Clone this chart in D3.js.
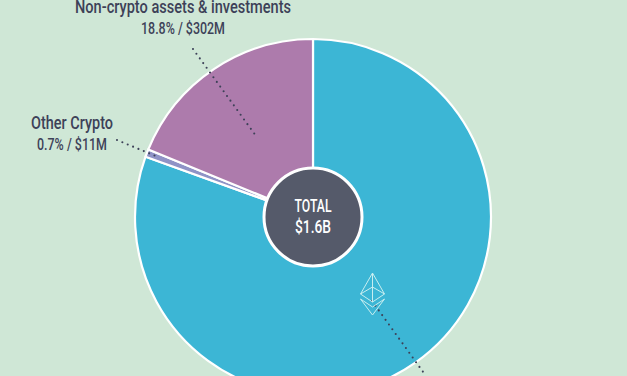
<!DOCTYPE html>
<html>
<head>
<meta charset="utf-8">
<script src="https://cdn.jsdelivr.net/npm/d3@7"></script>
<style>
html, body { margin: 0; padding: 0; background: #cfe7d6; overflow: hidden; }
svg { display: block; }
text { font-family: Roboto, sans-serif; font-weight: 500; }
</style>
</head>
<body>
<script>
'use strict';

var categories = ["Ethereum", "Other Crypto", "Non-crypto assets & investments"];
var shares = [80.5, 0.7, 18.8];
var sliceColors = ["#3cb6d5", "#8f93c6", "#ad7bac"];
var labelLines = [
    ["Non-crypto assets & investments", "18.8% / $302M"],
    ["Other Crypto", "0.7% / $11M"]
];
var totalLines = ["TOTAL", "$1.6B"];

var width = 627, height = 376,
    cx = 313, cy = 217,
    outer_radius = 178,
    hole_radius = 49;

var svg = d3.select("body").append("svg")
    .attr("width", width)
    .attr("height", height);

var chart = svg.append("g")
    .attr("transform", "translate("+cx+","+cy+")");

var pie = d3.pie().sort(null).value(function(d){return d;});
var arc = d3.arc().innerRadius(0).outerRadius(outer_radius);

chart.selectAll("path.slice")
    .data(pie(shares))
    .enter().append("path")
    .attr("class", "slice")
    .attr("d", arc)
    .attr("fill", function(d, i){return sliceColors[i];})
    .attr("stroke", "#fff")
    .attr("stroke-width", 2.2);

// center hole
chart.append("circle")
    .attr("r", hole_radius)
    .attr("fill", "#555a6a")
    .attr("stroke", "#fff")
    .attr("stroke-width", 3);

// center text, squeezed to the condensed look of the original
totalLines.forEach(function(t, i){
    chart.append("text")
        .attr("x", 0)
        .attr("y", -5 + i*21)
        .attr("text-anchor", "middle")
        .attr("fill", "#fff")
        .attr("font-size", 19)
        .attr("font-weight", 700)
        .attr("textLength", i == 0 ? 37 : 36)
        .attr("lengthAdjust", "spacingAndGlyphs")
        .text(t);
});

// leader lines
var leaders = [
    [[193, 49], [256, 136]],
    [[117, 140], [158, 157]],
    [[372, 301], [426, 376]]
];
svg.selectAll("path.leader")
    .data(leaders)
    .enter().append("path")
    .attr("class", "leader")
    .attr("d", d3.line())
    .attr("fill", "none")
    .attr("stroke", "#3d4158")
    .attr("stroke-width", 2.1)
    .attr("stroke-linecap", "round")
    .attr("stroke-dasharray", "0 5.8");

// labels
var labelSpots = [
    {x: 183, y: [13, 34], w: [216, 84]},
    {x: 72, y: [129, 150], w: [82, 70]}
];
labelLines.forEach(function(lines, k){
    lines.forEach(function(t, i){
        svg.append("text")
            .attr("x", labelSpots[k].x)
            .attr("y", labelSpots[k].y[i])
            .attr("text-anchor", "middle")
            .attr("fill", "#3d4158")
            .attr("font-size", i == 0 ? 19 : 17)
            .attr("textLength", labelSpots[k].w[i])
            .attr("lengthAdjust", "spacingAndGlyphs")
            .text(t);
    });
});

// ethereum logo outline
var logo = svg.append("g")
    .attr("transform", "translate(372.5,273)")
    .attr("fill", "none")
    .attr("stroke", "#c8eef0")
    .attr("stroke-width", 1)
    .attr("stroke-linejoin", "round");
[
    [[0, 0], [-12, 21], [0, 29], [12, 21], [0, 0]],
    [[-12, 21], [0, 14], [12, 21]],
    [[0, 0], [0, 29]],
    [[-12, 26], [0, 34], [12, 26], [0, 42], [-12, 26]]
].forEach(function(pts){
    logo.append("path").attr("d", d3.line()(pts));
});
</script>
</body>
</html>
